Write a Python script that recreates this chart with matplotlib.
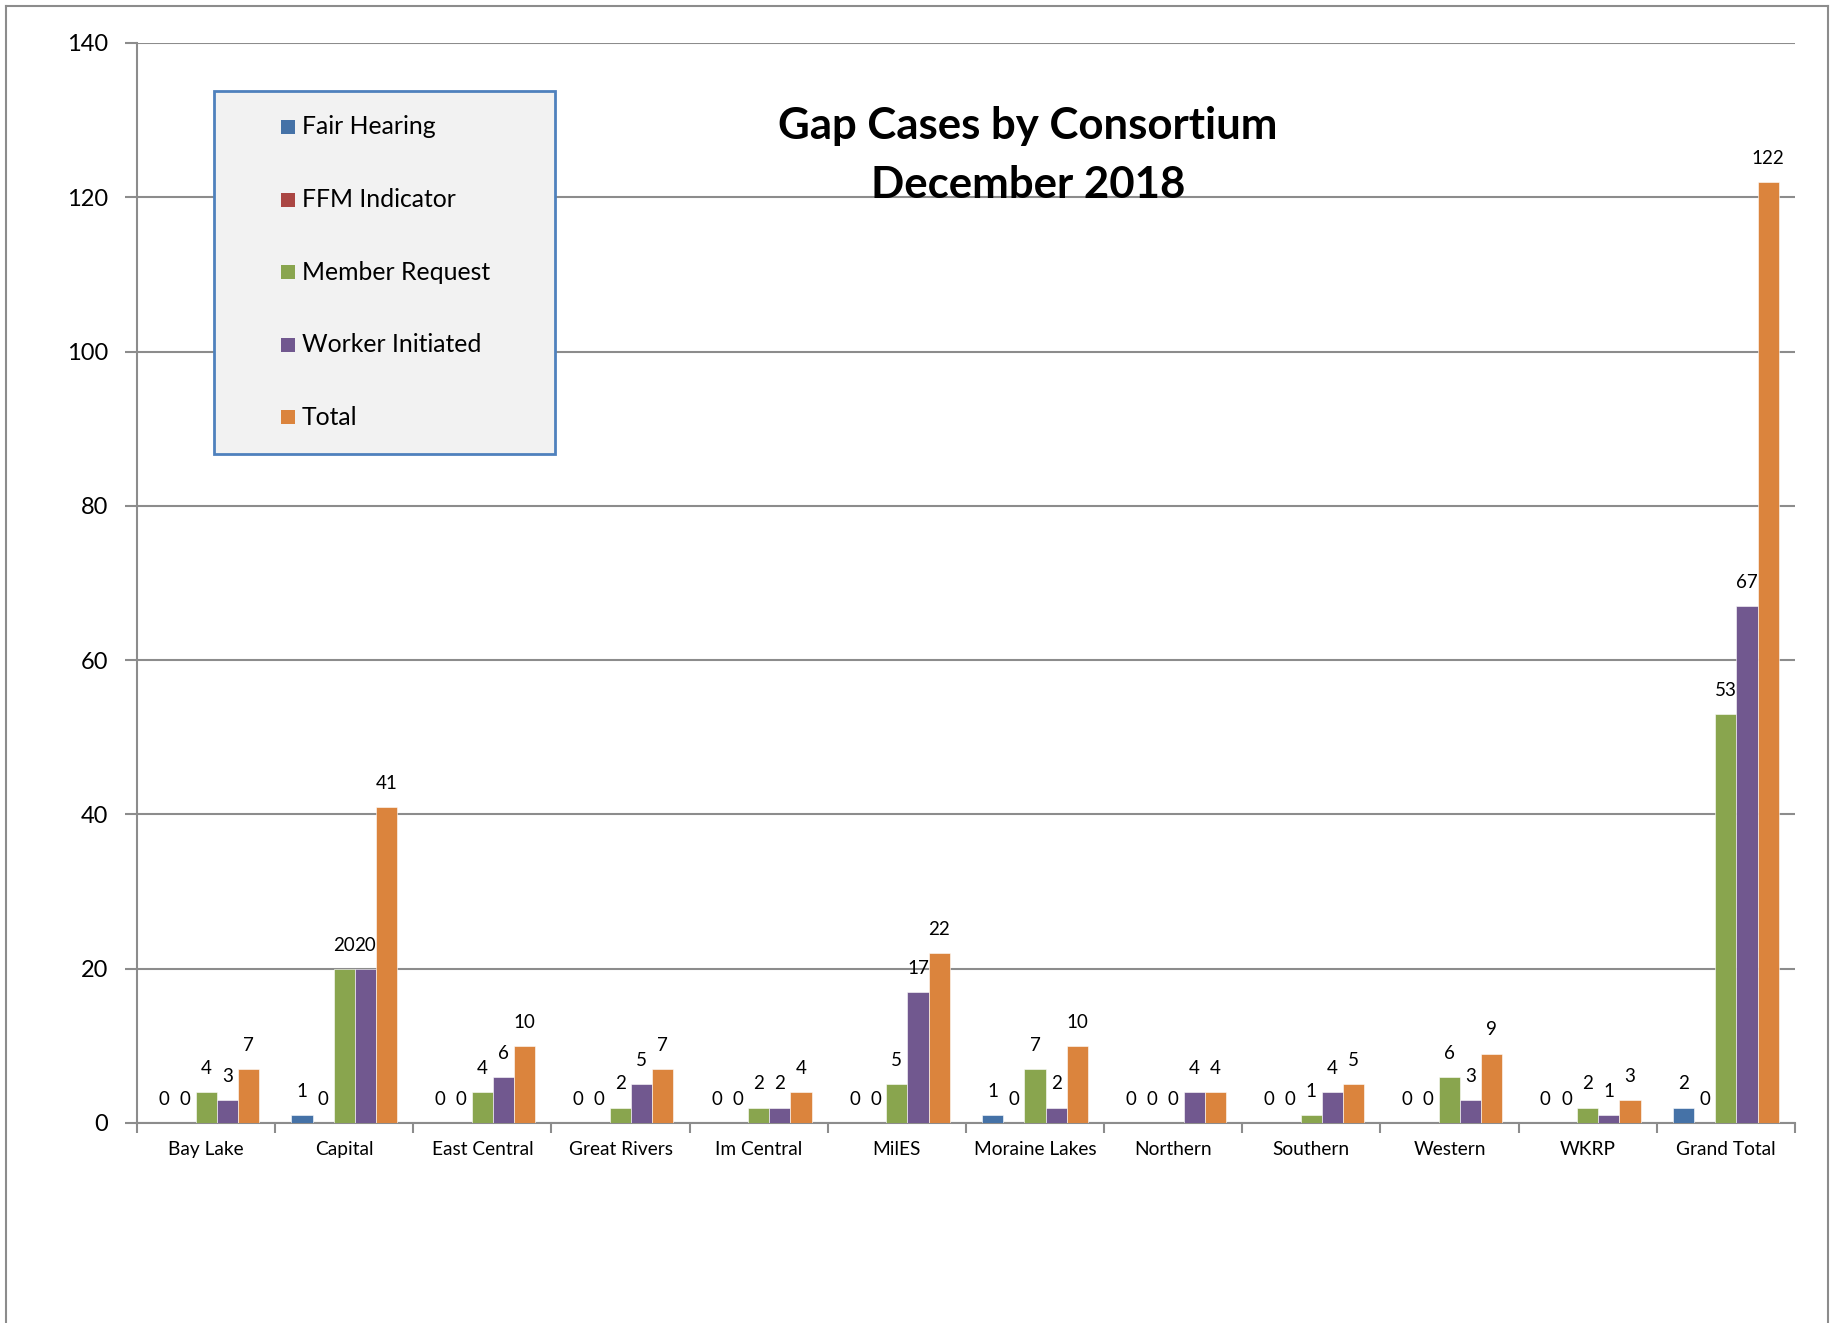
import matplotlib
matplotlib.use("Agg")
import matplotlib.pyplot as plt
from matplotlib.lines import Line2D
from matplotlib.patches import Rectangle
import numpy as np

plt.rcParams['font.family'] = ['Lato', 'DejaVu Sans']

categories = ['Bay Lake', 'Capital', 'East Central', 'Great Rivers', 'Im Central', 'MilES',
              'Moraine Lakes', 'Northern', 'Southern', 'Western', 'WKRP', 'Grand Total']
fair_hearing = [0, 1, 0, 0, 0, 0, 1, 0, 0, 0, 0, 2]
ffm_indicator = [0, 0, 0, 0, 0, 0, 0, 0, 0, 0, 0, 0]
member_request = [4, 20, 4, 2, 2, 5, 7, 0, 1, 6, 2, 53]
worker_initiated = [3, 20, 6, 5, 2, 17, 2, 4, 4, 3, 1, 67]
total = [7, 41, 10, 7, 4, 22, 10, 4, 5, 9, 3, 122]

series_names = ['Fair Hearing', 'FFM Indicator', 'Member Request', 'Worker Initiated', 'Total']
series = [fair_hearing, ffm_indicator, member_request, worker_initiated, total]
colors = ['#4572A7', '#AA4643', '#89A54E', '#71588F', '#DB843D']

W, H = 1834, 1323
fig = plt.figure(figsize=(W / 100, H / 100), dpi=100)
ax = fig.add_axes([0.0747, 0.1512, 0.904, 0.8163])

x = np.arange(len(categories))
w = 0.153
for i, (name, vals, c) in enumerate(zip(series_names, series, colors)):
    pos = x + (i - 2) * w
    bars = ax.bar(pos, vals, width=w, color=c, label=name, edgecolor='white',
                  linewidth=0.4, zorder=3)
    for b, v in zip(bars, vals):
        ax.annotate(str(v), (b.get_x() + b.get_width() / 2, v), xytext=(0, 17),
                    textcoords='offset points', ha='center', va='center',
                    fontsize=13.5, zorder=4)

ax.set_xlim(-0.5, len(categories) - 0.5)
ax.set_ylim(0, 140)
ax.set_yticks(range(0, 141, 20))
ax.yaxis.grid(True, color='#8c8c8c', linewidth=1.5, zorder=0)
ax.set_axisbelow(True)

ax.set_xticks(x)
ax.set_xticklabels(categories, fontsize=13.8)
ax.set_xticks(np.arange(-0.5, len(categories), 1), minor=True)
ax.tick_params(axis='x', which='major', length=0, pad=13)
ax.tick_params(axis='x', which='minor', length=7, width=1.5, color='#8c8c8c', direction='out')
ax.tick_params(axis='y', length=9, width=1.5, color='#8c8c8c', labelsize=17, pad=12)

for s in ['top', 'right']:
    ax.spines[s].set_visible(False)
for s in ['left', 'bottom']:
    ax.spines[s].set_color('#8c8c8c')
    ax.spines[s].set_linewidth(1.5)

# legend box drawn by hand (figure pixels from top-left)
lx0, ly0, lx1, ly1 = 214, 91, 555, 454
fig.add_artist(Rectangle((lx0 / W, 1 - ly1 / H), (lx1 - lx0) / W, (ly1 - ly0) / H,
                         transform=fig.transFigure, facecolor='#f2f2f2',
                         edgecolor='#4F81BD', linewidth=2, zorder=5))
sq = 14
for i, (name, c) in enumerate(zip(series_names, colors)):
    yc = ly0 + 36 + i * 72.6
    fig.text(302 / W, 1 - yc / H, name, ha='left', va='center', fontsize=17.8, zorder=6)
    fig.add_artist(Rectangle((281 / W, 1 - (yc + sq / 2) / H), sq / W, sq / H,
                             transform=fig.transFigure, facecolor=c, edgecolor='none',
                             zorder=6))

fig.text(0.5605, 0.8825, 'Gap Cases by Consortium\nDecember 2018', ha='center', va='center',
         fontsize=31.5, fontweight='bold', linespacing=1.58)

# outer chart border (open at bottom)
bc = '#8c8c8c'
fig.add_artist(Line2D([0.0033, 0.0033], [0.0, 0.9955], transform=fig.transFigure, color=bc, lw=1.5))
fig.add_artist(Line2D([0.0033, 0.9967], [0.9955, 0.9955], transform=fig.transFigure, color=bc, lw=1.5))
fig.add_artist(Line2D([0.9967, 0.9967], [0.0, 0.9955], transform=fig.transFigure, color=bc, lw=1.5))

plt.savefig('out.png', dpi=100, facecolor='white')
plt.close()
